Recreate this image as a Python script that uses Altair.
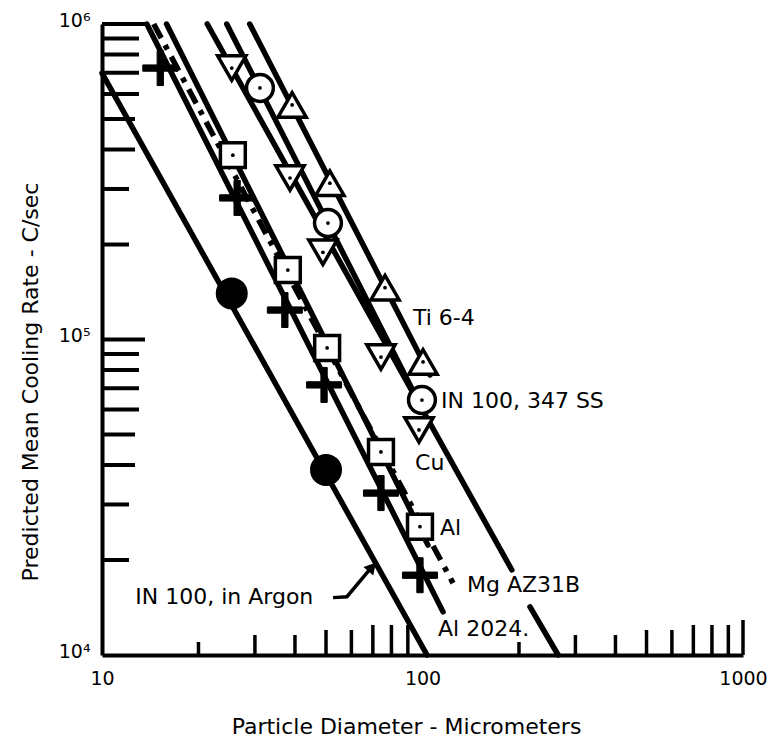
import altair as alt
import pandas as pd

FONT = "DejaVu Sans"
W, H = 641, 631

# ---------------- data ----------------
# markers (particle diameter um, cooling rate C/s)
ARGON_D = [25.4, 50.0]
ARGON_Y = [1.40e5, 3.86e4]
AL_D = [25.6, 38.0, 50.4, 74.2, 98.2]
AL_Y = [3.84e5, 1.66e5, 9.40e4, 4.40e4, 2.55e4]
MG_D = [15.2, 26.4, 37.2, 49.3, 74.2, 98.2]
MG_Y = [7.25e5, 2.81e5, 1.24e5, 7.18e4, 3.26e4, 1.79e4]
CU_D = [25.4, 38.6, 48.9, 74.2, 97.5]
CU_Y = [7.25e5, 3.25e5, 1.89e5, 8.80e4, 5.17e4]
SS_D = [31.1, 50.7, 99.6]
SS_Y = [6.27e5, 2.34e5, 6.43e4]
TI_D = [39.2, 51.4, 76.4, 100.4]
TI_Y = [5.54e5, 3.13e5, 1.46e5, 8.49e4]

# solid lines: start / end points
LINE_NAME = ["IN 100 Argon", "Al 2024", "Al", "Cu (upper)", "Cu (lower)", "IN 100, 347 SS", "Ti 6-4"]
LINE_D0 = [10.0, 13.8, 15.9, 21.3, 216.5, 24.5, 28.9]
LINE_Y0 = [6.99e5, 1.0e6, 1.0e6, 1.0e6, 1.42e4, 1.0e6, 1.0e6]
LINE_D1 = [103.3, 115.9, 104.0, 190.0, 265.0, 100.0, 105.5]
LINE_Y1 = [1.0e4, 1.37e4, 2.23e4, 1.86e4, 1.0e4, 6.0e4, 7.72e4]

# dash-dot line (Mg AZ31B)
MG_LINE_D = [14.5, 124.5]
MG_LINE_Y = [1.0e6, 1.69e4]

# annotation arrow for "IN 100, in Argon"
ARROW_D = [52.6, 58.1, 68.6]
ARROW_Y = [1.52e4, 1.53e4, 1.87e4]
ARROW_HEAD_D = [69.6]
ARROW_HEAD_Y = [1.90e4]

# curve labels
LABEL_TEXT = ["Ti 6-4", "IN 100, 347 SS", "Cu", "Al", "Mg AZ31B", "Al 2024.", "IN 100, in Argon"]
LABEL_D = [93.4, 114.2, 94.8, 113.4, 137.7, 111.8, 12.7]
LABEL_Y = [1.17e5, 6.38e4, 4.06e4, 2.53e4, 1.67e4, 1.21e4, 1.53e4]

# inward minor ticks
Y_TICKS_SHORT = [2e4, 3e4, 2e5, 3e5]
Y_TICKS_MID = [4e4, 5e4, 4e5, 5e5]
Y_TICKS_LONG = [6e4, 7e4, 8e4, 9e4, 6e5, 7e5, 8e5, 9e5]
Y_TICKS_MAJOR = [1e5, 1e6]
X_TICKS_1 = [20, 200]
X_TICKS_2 = [30, 40, 300, 400]
X_TICKS_3 = [50, 60, 500, 600]
X_TICKS_4 = [70, 80, 90, 700, 800, 900]
X_TICKS_MAJOR = [1000]

X_LABEL_VALUES = [10, 100, 1000]
Y_LABEL_VALUES = [1e4, 1e5, 1e6]

X_TITLE = "Particle Diameter  -  Micrometers"
Y_TITLE = "Predicted Mean Cooling Rate  -  C/sec"

# ---------------- chart ----------------
xs = alt.Scale(type="log", domain=[10, 1000])
ys = alt.Scale(type="log", domain=[1e4, 1e6])

x_axis = alt.Axis(
    values=X_LABEL_VALUES, labelExpr="format(datum.value, 'd')",
    ticks=False, grid=False, domainColor="black", domainWidth=4,
    labelFont=FONT, labelFontSize=19, labelColor="black", labelPadding=14,
    labelFlush=False,
    title=X_TITLE, titleFont=FONT, titleFontSize=22,
    titleFontWeight="normal", titleColor="black", titleX=304, titleY=78,
    titleBaseline="alphabetic",
)
y_axis = alt.Axis(
    values=Y_LABEL_VALUES,
    labelExpr="datum.value == 10000 ? '10⁴' : (datum.value == 100000 ? '10⁵' : '10⁶')",
    ticks=False, grid=False, domainColor="black", domainWidth=4,
    labelFont=FONT, labelFontSize=19, labelColor="black", labelPadding=12,
    labelOffset=-4, labelFlush=False, title="",
)


def X(field):
    return alt.X(field, scale=xs, axis=x_axis)


def Y(field):
    return alt.Y(field, scale=ys, axis=y_axis)


lines_df = pd.DataFrame({"name": LINE_NAME, "d0": LINE_D0, "y0": LINE_Y0,
                         "d1": LINE_D1, "y1": LINE_Y1})
solid = alt.Chart(lines_df).mark_rule(color="black", strokeWidth=5.5, strokeCap="round").encode(
    x=X("d0:Q"), y=Y("y0:Q"), x2="d1:Q", y2="y1:Q",
)

mg_line_df = pd.DataFrame({"d0": [MG_LINE_D[0]], "y0": [MG_LINE_Y[0]],
                           "d1": [MG_LINE_D[1]], "y1": [MG_LINE_Y[1]]})
dashdot = alt.Chart(mg_line_df).mark_rule(color="black", strokeWidth=5.5,
                                          strokeDash=[16, 8, 5, 8]).encode(
    x=X("d0:Q"), y=Y("y0:Q"), x2="d1:Q", y2="y1:Q",
)


def pts(d, y):
    return pd.DataFrame({"d": d, "y": y})


def enc(ch):
    return ch.encode(x=X("d:Q"), y=Y("y:Q"))


argon = enc(alt.Chart(pts(ARGON_D, ARGON_Y)).mark_point(
    shape="circle", filled=True, fill="black", stroke="black", size=900, opacity=1))
ss = enc(alt.Chart(pts(SS_D, SS_Y)).mark_point(
    shape="circle", filled=True, fill="white", stroke="black", strokeWidth=3.5,
    size=720, opacity=1, fillOpacity=1))
al = enc(alt.Chart(pts(AL_D, AL_Y)).mark_point(
    shape="square", filled=True, fill="white", stroke="black", strokeWidth=3.5,
    size=620, opacity=1, fillOpacity=1))
cu = enc(alt.Chart(pts(CU_D, CU_Y)).mark_point(
    shape="triangle-down", filled=True, fill="white", stroke="black", strokeWidth=3.5,
    size=800, opacity=1, fillOpacity=1))
ti = enc(alt.Chart(pts(TI_D, TI_Y)).mark_point(
    shape="triangle-up", filled=True, fill="white", stroke="black", strokeWidth=3.5,
    size=800, opacity=1, fillOpacity=1))
PLUS = "M-1,-0.18L1,-0.18L1,0.18L-1,0.18Z M-0.18,-1L0.18,-1L0.18,1L-0.18,1Z"
mg = enc(alt.Chart(pts(MG_D, MG_Y)).mark_point(
    shape=PLUS, filled=True, fill="black", stroke="black", strokeWidth=1,
    size=1225, opacity=1))

dots = enc(alt.Chart(pts(SS_D + AL_D + CU_D + TI_D, SS_Y + AL_Y + CU_Y + TI_Y)).mark_point(
    shape="circle", filled=True, color="black", size=14, opacity=1))

arrow_df = pd.DataFrame({"d": ARROW_D, "y": ARROW_Y, "o": list(range(len(ARROW_D)))})
arrow = alt.Chart(arrow_df).mark_line(color="black", strokeWidth=3.5).encode(
    x=X("d:Q"), y=Y("y:Q"), order="o:O")
arrow_head = enc(alt.Chart(pts(ARROW_HEAD_D, ARROW_HEAD_Y)).mark_point(
    shape="triangle-up", filled=True, color="black", size=170, angle=41, opacity=1))

labels_df = pd.DataFrame({"t": LABEL_TEXT, "d": LABEL_D, "y": LABEL_Y})
labels = alt.Chart(labels_df).mark_text(
    font=FONT, fontSize=22, align="left", baseline="middle", color="black").encode(
    x=X("d:Q"), y=Y("y:Q"), text="t:N")

# y-axis title as a rotated text placed in the left margin
ytitle = alt.Chart(pd.DataFrame({"t": [Y_TITLE]})).mark_text(
    font=FONT, fontSize=22, angle=270, align="center", baseline="alphabetic",
    color="black").encode(x=alt.value(-64), y=alt.value(358), text="t:N")


def ytick_layer(vals, length):
    return alt.Chart(pd.DataFrame({"v": vals})).mark_rule(color="black", strokeWidth=4).encode(
        y=Y("v:Q"), x=alt.value(0), x2=alt.value(length))


def xtick_layer(vals, length):
    return alt.Chart(pd.DataFrame({"v": vals})).mark_rule(color="black", strokeWidth=3.5).encode(
        x=X("v:Q"), y=alt.value(H), y2=alt.value(H - length))


tick_layers = [
    ytick_layer(Y_TICKS_SHORT, 27), ytick_layer(Y_TICKS_MID, 33),
    ytick_layer(Y_TICKS_LONG, 37), ytick_layer(Y_TICKS_MAJOR, 43),
    xtick_layer(X_TICKS_1, 13), xtick_layer(X_TICKS_2, 20),
    xtick_layer(X_TICKS_3, 25), xtick_layer(X_TICKS_4, 30),
    xtick_layer(X_TICKS_MAJOR, 35),
]

chart = alt.layer(
    solid, dashdot, *tick_layers, arrow, arrow_head,
    argon, ss, al, cu, ti, mg, dots, labels, ytitle,
).properties(
    width=W, height=H,
    autosize=alt.AutoSizeParams(type="none"),
    padding={"left": 102, "top": 24, "right": 24, "bottom": 85},
    background="white",
).configure_view(strokeWidth=0)

chart.save("out.html", embed_options={"renderer": "svg", "actions": False})
